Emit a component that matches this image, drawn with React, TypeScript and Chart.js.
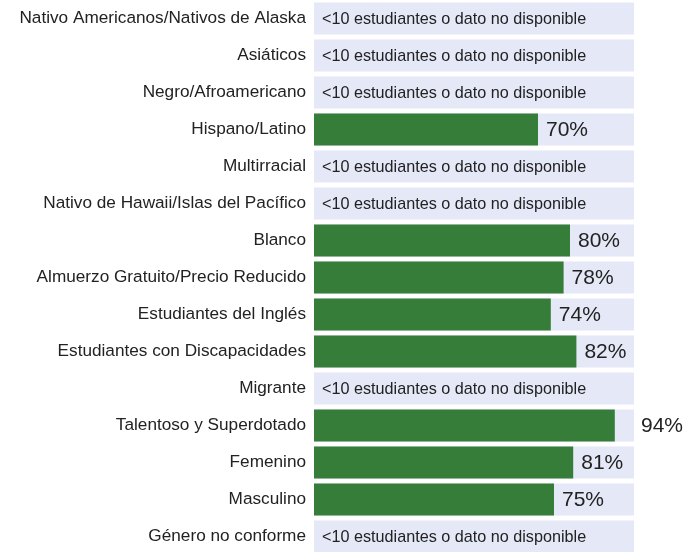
import React, { useEffect, useRef } from "react";
import { Chart, registerables } from "chart.js";

Chart.register(...registerables);

const categories: string[] = [
  "Nativo Americanos/Nativos de Alaska",
  "Asiáticos",
  "Negro/Afroamericano",
  "Hispano/Latino",
  "Multirracial",
  "Nativo de Hawaii/Islas del Pacífico",
  "Blanco",
  "Almuerzo Gratuito/Precio Reducido",
  "Estudiantes del Inglés",
  "Estudiantes con Discapacidades",
  "Migrante",
  "Talentoso y Superdotado",
  "Femenino",
  "Masculino",
  "Género no conforme",
];

const values: (number | null)[] = [
  null, null, null, 70, null, null, 80, 78, 74, 82, null, 94, 81, 75, null,
];

const backgroundValues: number[] = categories.map(() => 100);

const missingText = "<10 estudiantes o dato no disponible";

const GREEN = "#357d39";
const LAVENDER = "#e5e8f6";
const TEXT = "#222222";
const FONT = "'Liberation Sans', Arial, sans-serif";

const labelPlugin = {
  id: "barLabels",
  afterDatasetsDraw(chart: any) {
    const ctx = chart.ctx;
    const x = chart.scales.x;
    const bgMeta = chart.getDatasetMeta(1);
    ctx.save();
    ctx.fillStyle = TEXT;
    ctx.textBaseline = "middle";
    ctx.textAlign = "left";
    values.forEach((v, i) => {
      const bgBar = bgMeta.data[i];
      const y = bgBar.y;
      const bgStart = x.getPixelForValue(0);
      const bgEnd = x.getPixelForValue(100);
      if (v === null || v === undefined) {
        ctx.font = `16.2px ${FONT}`;
        ctx.fillText(missingText, bgStart + 8, y + 1);
      } else {
        ctx.font = `21px ${FONT}`;
        const txt = `${v}%`;
        const w = ctx.measureText(txt).width;
        const end = x.getPixelForValue(v);
        let tx = end + 8;
        if (tx + w > bgEnd) tx = bgEnd + 7;
        ctx.fillText(txt, tx, y + 1);
      }
    });
    ctx.restore();
  },
};

export default function App() {
  const canvasRef = useRef<HTMLCanvasElement | null>(null);

  useEffect(() => {
    if (!canvasRef.current) return;
    const chart = new Chart(canvasRef.current, {
      type: "bar",
      data: {
        labels: categories,
        datasets: [
          {
            label: "valor",
            data: values as any,
            backgroundColor: GREEN,
            borderWidth: 0,
            barPercentage: 32 / 37,
            categoryPercentage: 1,
            grouped: false,
          } as any,
          {
            label: "fondo",
            data: backgroundValues,
            backgroundColor: LAVENDER,
            borderWidth: 0,
            barPercentage: 32 / 37,
            categoryPercentage: 1,
            grouped: false,
          } as any,
        ],
      },
      options: {
        indexAxis: "y",
        animation: false,
        responsive: false,
        maintainAspectRatio: false,
        layout: { autoPadding: false, padding: { left: 0, right: 51, top: 0, bottom: 0 } },
        plugins: {
          legend: { display: false },
          tooltip: { enabled: false },
          title: { display: false },
        },
        scales: {
          x: {
            display: false,
            min: 0,
            max: 100,
          },
          y: {
            grid: { display: false, drawTicks: false },
            border: { display: false },
            ticks: {
              padding: 8,
              color: TEXT,
              font: { size: 17.2, family: FONT },
              autoSkip: false,
            },
            afterFit: (scale: any) => {
              scale.width = 314;
              scale.paddingTop = 0;
              scale.paddingBottom = 0;
            },
          },
        },
      },
      plugins: [labelPlugin],
    } as any);
    return () => chart.destroy();
  }, []);

  return (
    <div style={{ position: "fixed", top: 0, left: 0, width: 685, height: 555, background: "#fff" }}>
      <canvas ref={canvasRef} width={685} height={555} style={{ width: 685, height: 555, display: "block" }} />
    </div>
  );
}
